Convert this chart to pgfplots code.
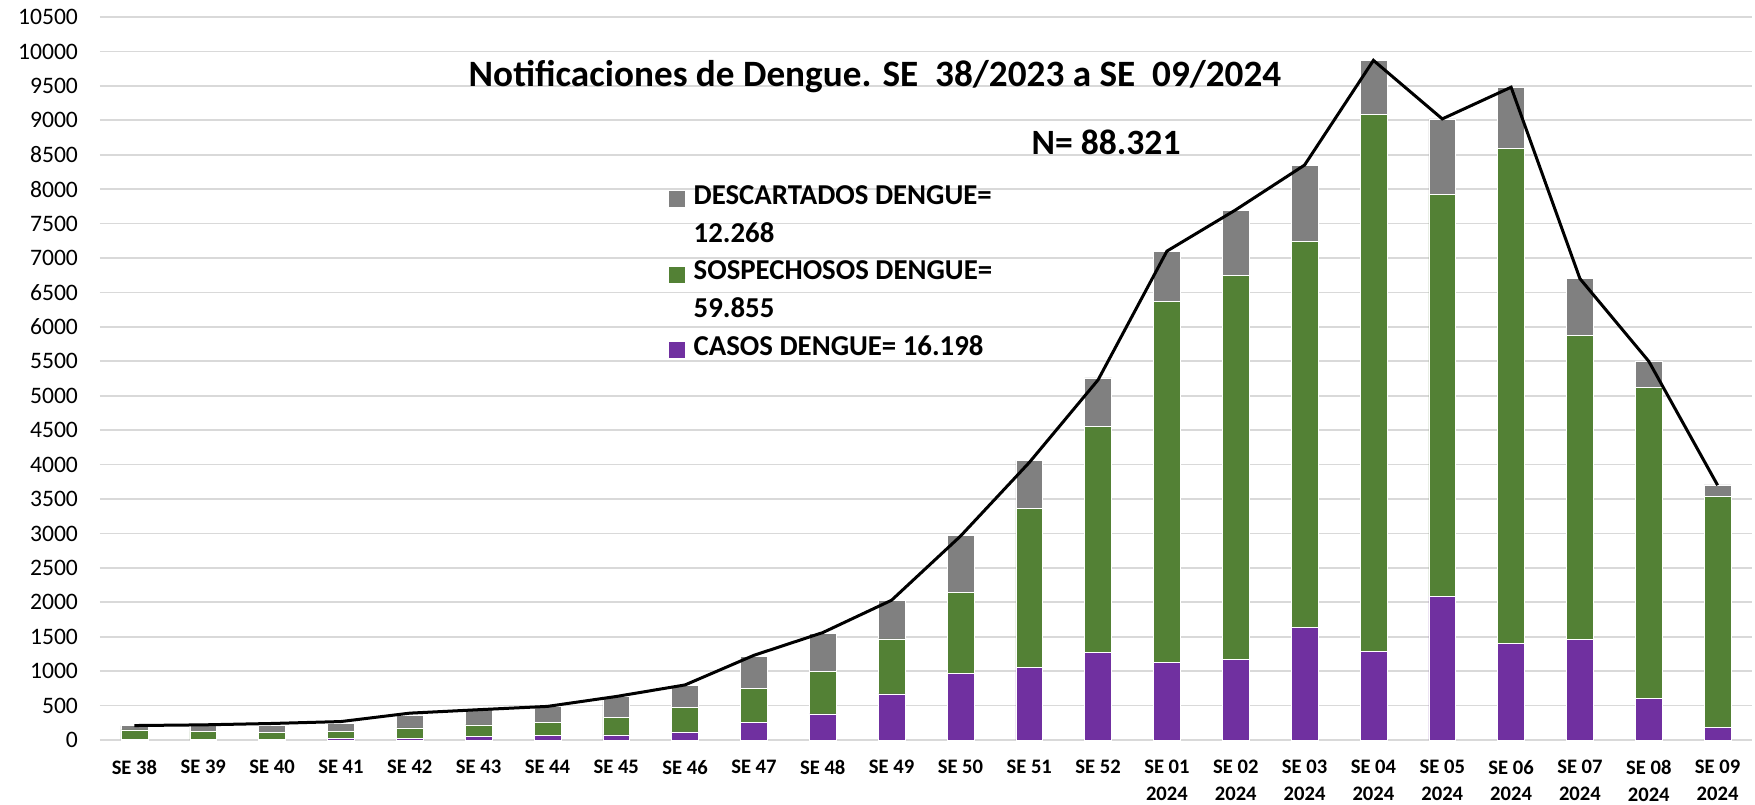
\documentclass[border=0pt]{standalone}
\usepackage{fontspec}
\setmainfont{Carlito}
\usepackage{pgfplots}
\usepackage{pgfplotstable}
\pgfplotsset{compat=1.18}
\definecolor{gris}{HTML}{808080}
\definecolor{verde}{HTML}{538135}
\definecolor{morado}{HTML}{7030A0}
\definecolor{grilla}{HTML}{D9D9D9}

% SE 38/2023 .. SE 09/2024
\pgfplotstableread{
x  casos sosp desc total
0  5     141  64   210
1  3     124  83   220
2  3     109  98   240
3  20    107  117  268
4  25    151  190  390
5  50    170  220  440
6  63    196  229  488
7  73    258  301  632
8  117   360  316  800
9  258   496  462  1230
10 379   623  545  1560
11 671   798  554  2030
12 963   1182 822  2960
13 1060  2306 695  4030
14 1274  3279 705  5230
15 1126  5243 728  7100
16 1175  5568 951  7700
17 1636  5602 1112 8350
18 1286  7801 782  9870
19 2087  5835 1098 9020
20 1403  7189 889  9480
21 1461  4413 835  6700
22 602   4520 378  5500
23 184   3359 161  3700
}\datos

\begin{document}
\begin{tikzpicture}
\path[use as bounding box] (-50pt,-32pt) rectangle (827.5pt,370pt);
\pgfplotsset{base/.style={width=826pt, height=361.5pt, scale only axis,
  xmin=-0.5, xmax=23.5, ymin=0, ymax=10500}}
\begin{axis}[base,
  ybar stacked, bar width=0.39,
  axis line style={draw=none}, major tick length=0pt,
  ymajorgrids, grid style={grilla, line width=0.9pt},
  ytick distance=500, scaled y ticks=false,
  yticklabel style={font=\fontsize{11.8}{14}\selectfont, xshift=-7.5pt,
    /pgf/number format/assume math mode=true, /pgf/number format/1000 sep={}},
  xtick=data,
  xticklabels={SE 38,SE 39,SE 40,SE 41,SE 42,SE 43,SE 44,SE 45,SE 46,SE 47,SE 48,
    SE 49,SE 50,SE 51,SE 52,{SE 01\\2024},{SE 02\\2024},{SE 03\\2024},{SE 04\\2024},
    {SE 05\\2024},{SE 06\\2024},{SE 07\\2024},{SE 08\\2024},{SE 09\\2024}},
  xticklabel style={font=\bfseries\fontsize{10.3}{13.3}\selectfont, align=center,
    yshift=-6.6pt},
  legend cell align=left,
  legend image code/.code={\fill[#1,draw=none] (0pt,-4.3pt) rectangle (8pt,3.7pt);},
  legend style={at={(0.344,0.7663)}, anchor=north west, draw=none, fill=none,
    inner sep=0pt, row sep=6.9pt, column sep=4.5pt,
    nodes={inner sep=0pt, text height=9pt, text depth=3pt},
    font=\bfseries\fontsize{14.4}{17}\selectfont},
]
\addlegendimage{fill=gris}
\addlegendentry{DESCARTADOS DENGUE=}
\addlegendimage{empty legend}
\addlegendentry{12.268}
\addlegendimage{fill=verde}
\addlegendentry{SOSPECHOSOS DENGUE=}
\addlegendimage{empty legend}
\addlegendentry{59.855}
\addlegendimage{fill=morado}
\addlegendentry{CASOS DENGUE= 16.198}
\addplot[fill=morado, draw=white, line width=0.3pt, forget plot] table[x=x, y=casos]{\datos};
\addplot[fill=verde, draw=white, line width=0.3pt, forget plot] table[x=x, y=sosp]{\datos};
\addplot[fill=gris, draw=white, line width=0.3pt, forget plot] table[x=x, y=desc]{\datos};
\node[anchor=base, font=\bfseries\fontsize{18.6}{22}\selectfont]
  at (rel axis cs:0.4691,0.9032) {Notificaciones de Dengue. SE\ \ 38/2023 a SE\ \ 09/2024};
\node[anchor=base, font=\bfseries\fontsize{17.8}{21}\selectfont]
  at (rel axis cs:0.6090,0.8105) {N= 88.321};
\end{axis}
\begin{axis}[base, hide axis]
\addplot[black, line width=1.5pt, sharp plot, mark=none] table[x=x, y=total]{\datos};
\end{axis}
\end{tikzpicture}
\end{document}
